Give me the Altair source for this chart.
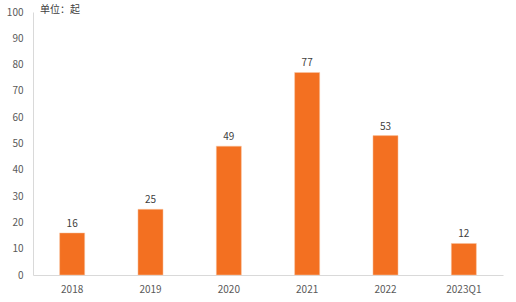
import altair as alt
import pandas as pd

categories = ["2018", "2019", "2020", "2021", "2022", "2023Q1"]
values = [16, 25, 49, 77, 53, 12]
unit_label = "单位：起"

df = pd.DataFrame({"cat": categories, "val": values})

font = "Noto Sans CJK SC"

base = alt.Chart(df).encode(
    x=alt.X("cat:N", sort=categories,
            scale=alt.Scale(paddingInner=0.68, paddingOuter=0.34),
            axis=alt.Axis(title=None, labelAngle=0, ticks=False, domainColor="#d9d9d9",
                          labelColor="#595959", labelFontSize=10, labelPadding=9, labelFont=font)),
    y=alt.Y("val:Q", scale=alt.Scale(domain=[0, 100]),
            axis=alt.Axis(title=None, values=list(range(0, 101, 10)), grid=False, ticks=False,
                          domainColor="#d9d9d9", labelColor="#595959", labelFontSize=10,
                          labelPadding=10, labelFont=font, labelOverlap=False,
                          labelFlush=False)),
)

bars = base.mark_bar(color="#F37021", stroke="#f9c9a9", strokeWidth=0.5)

labels = base.mark_text(dy=-9, fontSize=10, color="#404040", font=font).encode(
    text="val:Q"
)

title = alt.Chart(pd.DataFrame({"t": [unit_label]})).mark_text(
    align="left", baseline="middle", fontSize=10, color="#404040", font=font
).encode(x=alt.value(7), y=alt.value(-2), text="t:N")

chart = (bars + labels + title).properties(
    width=470, height=263,
    padding={"left": 33, "top": 12, "right": 13, "bottom": 27},
    autosize=alt.AutoSizeParams(type="none"),
).configure_view(stroke=None)

chart.save("out.html", embed_options={"renderer": "svg", "actions": False})
